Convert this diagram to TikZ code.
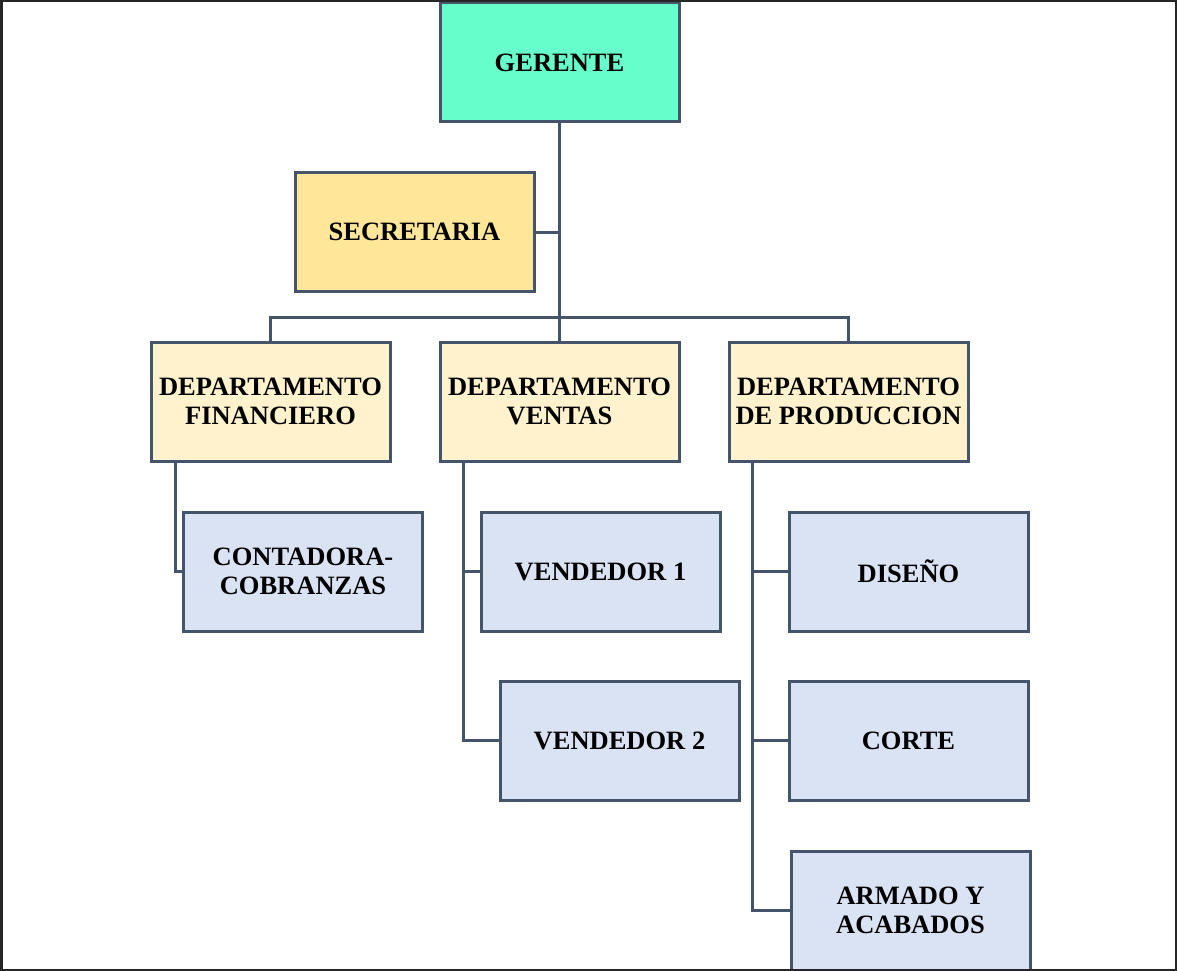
\documentclass[tikz,border=0pt]{standalone}
\usepackage{fontspec}
\setmainfont{Liberation Serif}
\definecolor{linec}{HTML}{44546A}
\definecolor{gerc}{HTML}{66FFCC}
\definecolor{secc}{HTML}{FFE699}
\definecolor{depc}{HTML}{FFF2CC}
\definecolor{subc}{HTML}{DAE3F3}
\tikzset{
  box/.style={draw=linec, line width=3pt, minimum width=239pt, minimum height=119pt,
    inner sep=0pt, align=center, font=\fontsize{26.5}{28.5}\selectfont\bfseries},
  conn/.style={draw=linec, line width=3pt}
}
\begin{document}
\begin{tikzpicture}[x=1pt,y=-1pt]
\useasboundingbox (0,0) rectangle (1177,971);
\fill[white] (0,0) rectangle (1177,971);
% nodes
\node[box, fill=gerc] (ger) at (559.5,62.5) {GERENTE};
\node[box, fill=secc] (sec) at (414.5,232) {SECRETARIA};
\node[box, fill=depc] (fin) at (270.5,401.5) {DEPARTAMENTO\\FINANCIERO};
\node[box, fill=depc] (ven) at (559.5,401.5) {DEPARTAMENTO\\VENTAS};
\node[box, fill=depc] (pro) at (848.5,401.5) {DEPARTAMENTO\\DE PRODUCCION};
\node[box, fill=subc] (con) at (303,571.5) {CONTADORA-\\COBRANZAS};
\node[box, fill=subc] (v1) at (600.5,571.5) {VENDEDOR 1};
\node[box, fill=subc] (v2) at (619.5,740.5) {VENDEDOR 2};
\node[box, fill=subc] (dis) at (908.5,571.5) {DISEÑO};
\node[box, fill=subc] (cor) at (908.5,740.5) {CORTE};
\node[box, fill=subc] (arm) at (910.5,910.5) {ARMADO Y\\ACABADOS};
% connectors
\coordinate (bus) at (559.5,317);
\draw[conn] (ger.south) -- (ven.north);
\draw[conn] (sec.east) -- (sec.east -| ger.south);
\draw[conn] (fin.north) |- (bus) -| (pro.north);
\draw[conn] ([xshift=-95pt]fin.south) |- (con.west);
\draw[conn] ([xshift=-96pt]ven.south) |- (v1.west);
\draw[conn] ([xshift=-96pt]ven.south) |- (v2.west);
\draw[conn] ([xshift=-96pt]pro.south) |- (dis.west);
\draw[conn] ([xshift=-96pt]pro.south) |- (cor.west);
\draw[conn] ([xshift=-96pt]pro.south) |- (arm.west);
% outer frame
\draw[line width=2.5pt, black!85] (1.25,1.25) rectangle (1175.75,969.75);
\end{tikzpicture}
\end{document}
